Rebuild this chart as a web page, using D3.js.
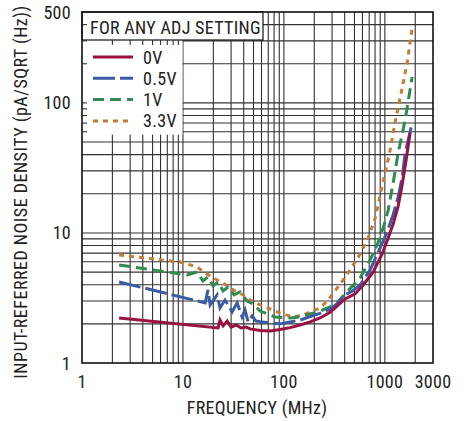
<!DOCTYPE html>
<html><head><meta charset="utf-8">
<script src="https://cdn.jsdelivr.net/npm/d3@7"></script>
<style>
html,body{margin:0;padding:0;background:#fff;}
svg text{font-family:"Liberation Sans Narrow","Arial Narrow","Roboto Condensed",sans-serif;fill:#222;letter-spacing:0.3px;}
</style></head>
<body><svg id="c" width="469" height="421"></svg>
<script>
// ---- data (frequency MHz, noise pA/sqrt(Hz)) ----
const series0V = [[2.33,2.22],[22.3,1.86],[23.3,2.14],[25.0,1.93],[27.4,2.10],[30.0,1.89],[33.6,1.96],[37.7,1.86],[42.2,1.89],[46.2,1.83],[58.1,1.78],[73,1.76],[91.7,1.81],[115,1.87],[145,1.96],[182,2.07],[228,2.22],[287,2.45],[344,2.79],[404,3.11],[508,3.40],[610,3.98],[765,5.0],[940,6.89],[1079,9.15],[1208,11.7],[1355,16.1],[1484,23.4],[1626,36.5],[1781,58.8]];
const series05V = [[2.33,4.20],[16.6,2.90],[17.7,3.65],[18.6,2.79],[21.8,3.34],[23.3,2.65],[26.1,3.05],[30.7,2.47],[34.4,2.90],[38.5,2.26],[41.2,2.56],[44.2,2.07],[48.4,2.30],[53.0,2.10],[58.1,2.08],[73,2.03],[91.7,2.0],[115,2.07],[145,2.14],[182,2.27],[228,2.41],[287,2.59],[344,2.90],[386,3.28],[478,3.58],[569,3.98],[715,5.19],[898,7.67],[1054,10.2],[1208,13.8],[1355,18.9],[1484,26.5],[1589,41.2],[1865,70.2]];
const series1V = [[2.33,5.68],[11.0,4.75],[13.8,5.01],[15.8,4.27],[17.7,4.59],[19.9,3.91],[22.3,4.20],[25.0,3.58],[28.0,3.84],[32.1,3.34],[36.8,3.52],[43.2,3.0],[49.5,2.84],[58.1,2.51],[81.8,2.26],[115,2.22],[145,2.26],[182,2.38],[228,2.51],[287,2.70],[344,2.95],[404,3.40],[569,4.51],[715,6.20],[839,8.09],[962,10.9],[1079,15.0],[1208,24.2],[1355,41.2],[1589,74],[1865,158]];
const series33V = [[2.33,6.77],[9.36,5.98],[13.8,5.48],[16.6,4.92],[21.8,4.35],[25.0,4.12],[31.4,3.65],[39.4,3.34],[49.5,2.95],[65.1,2.70],[91.7,2.42],[123,2.26],[155,2.34],[228,2.65],[274,3.05],[361,4.05],[453,5.19],[569,6.89],[683,9.15],[802,13.0],[898,19.6],[1007,28.9],[1130,43.5],[1265,71.4],[1484,130],[1663,203],[1865,377]];
const seriesNames = ["0V","0.5V","1V","3.3V"];
const seriesColors = ["#9b1142","#3b5ba6","#2f8c4e","#c77c36"];
const seriesDash = [null,"22,5","11,6","5,5"];
const xTickValues = [1,10,100,1000,3000];
const yTickValues = [1,10,100,500];
const xTitle = "FREQUENCY (MHz)";
const yTitle = "INPUT-REFERRED NOISE DENSITY (pA/SQRT (Hz))";
const boxTitle = "FOR ANY ADJ SETTING";

const svg = d3.select("#c");
const L=82, R=433, T=12, B=363;
const x = d3.scaleLog().domain([1,3000]).range([L,R]);
const y = d3.scaleLog().domain([1,500]).range([B,T]);

// minor grid values
const xGrid=[], yGrid=[];
[1,10,100,1000].forEach(d=>{for(let k=1;k<10;k++){const v=d*k; if(v>1&&v<3000) xGrid.push(v);}});
[1,10,100].forEach(d=>{for(let k=1;k<10;k++){const v=d*k; if(v>1&&v<500) yGrid.push(v);}});

const g = svg.append("g");
g.selectAll(".vg").data(xGrid).enter().append("line")
 .attr("x1",d=>x(d)).attr("x2",d=>x(d)).attr("y1",T).attr("y2",B)
 .attr("stroke","#333").attr("stroke-width",1.1);
g.selectAll(".hg").data(yGrid).enter().append("line")
 .attr("y1",d=>y(d)).attr("y2",d=>y(d)).attr("x1",L).attr("x2",R)
 .attr("stroke","#333").attr("stroke-width",1.1);

// legend region (white) and title box
svg.append("rect").attr("x",L).attr("y",T).attr("width",x(9.9)-L).attr("height",y(57)-T).attr("fill","#fff");
svg.append("rect").attr("x",L).attr("y",T).attr("width",263-L).attr("height",28).attr("fill","#fff")
 .attr("stroke","#111").attr("stroke-width",1.2);

// inward ticks visible in legend area
svg.selectAll(".xt").data(xGrid.filter(d=>d<10)).enter().append("line")
 .attr("x1",d=>x(d)).attr("x2",d=>x(d)).attr("y1",40).attr("y2",45).attr("stroke","#333").attr("stroke-width",1.1);
svg.selectAll(".yt").data(yGrid.filter(d=>d>=60)).enter().append("line")
 .attr("y1",d=>y(d)).attr("y2",d=>y(d)).attr("x1",L).attr("x2",L+5).attr("stroke","#333").attr("stroke-width",1.1);

// curves
const line = d3.line().x(d=>x(d[0])).y(d=>y(d[1]));
const allSeries=[series0V,series05V,series1V,series33V];
[3,2,1,0].forEach(i=>{
  svg.append("path").datum(allSeries[i]).attr("d",line).attr("fill","none")
   .attr("stroke",seriesColors[i]).attr("stroke-width",3)
   .attr("stroke-dasharray",seriesDash[i]);
});

// frame
svg.append("rect").attr("x",L).attr("y",T).attr("width",R-L).attr("height",B-T)
 .attr("fill","none").attr("stroke","#111").attr("stroke-width",1.6);

// title text
svg.append("text").attr("x",90).attr("y",34).attr("font-size",18).text(boxTitle);

// legend
seriesNames.forEach((n,i)=>{
  const ly = 57 + i*21.3;
  svg.append("line").attr("x1",93).attr("x2",133).attr("y1",ly).attr("y2",ly)
   .attr("stroke",seriesColors[i]).attr("stroke-width",3).attr("stroke-dasharray",seriesDash[i]);
  svg.append("text").attr("x",143).attr("y",ly+6.5).attr("font-size",18).text(n);
});

// tick labels
svg.selectAll(".xl").data(xTickValues).enter().append("text")
 .attr("x",d=>x(d)).attr("y",388).attr("text-anchor","middle").attr("font-size",18).text(d=>d);
svg.selectAll(".yl").data(yTickValues).enter().append("text")
 .attr("x",71).attr("y",d=>y(d)+6.5).attr("text-anchor","end").attr("font-size",18).text(d=>d);

// axis titles
svg.append("text").attr("x",257).attr("y",414).attr("text-anchor","middle").attr("font-size",18).text(xTitle);
svg.append("text").attr("transform","translate(27,192) rotate(-90)").attr("text-anchor","middle")
 .attr("font-size",18).style("letter-spacing","0.5px").text(yTitle);
</script></body></html>
